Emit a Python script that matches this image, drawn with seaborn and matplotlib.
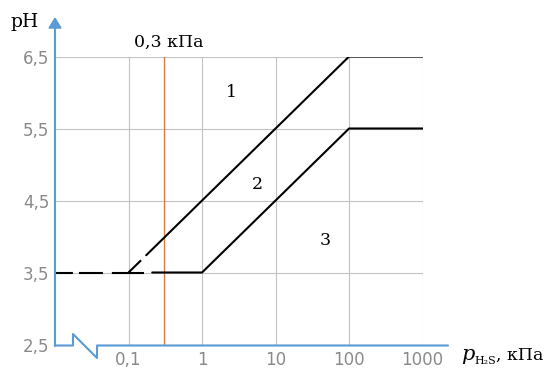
import numpy as np
import pandas as pd
import matplotlib.pyplot as plt
import seaborn as sns
from matplotlib.lines import Line2D

# ticks
x_ticks = [0.1, 1, 10, 100, 1000]
x_tick_labels = ['0,1', '1', '10', '100', '1000']
y_ticks = [2.5, 3.5, 4.5, 5.5, 6.5]
y_tick_labels = ['2,5', '3,5', '4,5', '5,5', '6,5']

# boundary between regions 1 and 2
upper_dash_x = [0.1, 0.148]
upper_dash_y = [3.5, 3.67]
upper_x = [0.174, 100, 1000]
upper_y = [3.74, 6.5, 6.5]

# boundary between regions 2 and 3
lower_dash_x = [0.01, 0.163]
lower_dash_y = [3.5, 3.5]
lower_x = [0.21, 1, 100, 1000]
lower_y = [3.5, 3.5, 5.5, 5.5]

# reference pressure line
p_ref = 0.3
p_ref_label = '0,3 кПа'

# region labels
region_names = ['1', '2', '3']
region_x = [2.5, 5.6, 48]
region_y = [6.0, 4.72, 3.94]

sns.set_theme(style="white")
plt.rcParams['font.family'] = ['DejaVu Sans']

blue = '#5b9bd5'
grid_col = '#c3c3c3'
tick_col = '#8a8a8a'

W, H = 549, 370
fig = plt.figure(figsize=(W / 100, H / 100), dpi=100)
ax = fig.add_axes([55 / W, 1 - 344.5 / H, 367.6 / W, 288 / H])
ax.set_xscale('log')

upper_df = pd.DataFrame({'p': upper_x, 'ph': upper_y})
lower_df = pd.DataFrame({'p': lower_x, 'ph': lower_y})
sns.lineplot(data=upper_df, x='p', y='ph', ax=ax, color='black', lw=1.5, sort=False)
sns.lineplot(data=lower_df, x='p', y='ph', ax=ax, color='black', lw=1.5, sort=False)
ax.plot(upper_dash_x, upper_dash_y, color='black', lw=1.5, solid_capstyle='butt')
ax.plot(lower_dash_x, lower_dash_y, color='black', lw=1.5, dash_capstyle='butt',
        linestyle=(0, (8.6, 2.9, 11.5, 4.3, 30, 5)))

ax.axvline(p_ref, color='#e07b45', lw=1, zorder=1)

ax.set_xlim(0.01, 1000)
ax.set_ylim(2.5, 6.5)
ax.set_xticks(x_ticks, labels=x_tick_labels)
ax.set_yticks(y_ticks, labels=y_tick_labels)
ax.minorticks_off()
ax.tick_params(axis='both', length=0, labelsize=12, labelcolor=tick_col)
ax.tick_params(axis='x', pad=5)
ax.tick_params(axis='y', pad=4)
ax.grid(True, color=grid_col, lw=0.8)
ax.set_axisbelow(True)
for s in ax.spines.values():
    s.set_visible(False)
ax.set_xlabel('')
ax.set_ylabel('')

serif = dict(family='DejaVu Serif', color='black')
for name, rx, ry in zip(region_names, region_x, region_y):
    ax.text(rx, ry, name, ha='center', va='center', fontsize=12.5, **serif)
ax.text(0.356, 6.70, p_ref_label, ha='center', va='center', fontsize=12.5,
        clip_on=False, **serif)


def fpt(px, py):
    return px / W, 1 - py / H


# y axis with arrow
ax.annotate('', xy=fpt(55, 17), xytext=fpt(55, 346), xycoords='figure fraction',
            textcoords='figure fraction',
            arrowprops=dict(arrowstyle='-|>,head_length=0.45,head_width=0.28',
                            color=blue, lw=1.5, mutation_scale=14, shrinkA=0, shrinkB=0))

# x axis with break
brk = [(55, 345.5), (73, 345.5), (73, 334), (97, 358), (97, 345.5), (448, 345.5)]
bx = [fpt(*p)[0] for p in brk]
by = [fpt(*p)[1] for p in brk]
fig.add_artist(Line2D(bx, by, transform=fig.transFigure, color=blue, lw=1.5))

# x axis title: p_H2S, кПа
fig.text(*fpt(461, 360), 'p', ha='left', va='baseline', fontsize=15,
         style='italic', **serif)
fig.text(*fpt(474, 364), 'H₂S', ha='left', va='baseline', fontsize=8, **serif)
fig.text(*fpt(496, 360), ', кПа', ha='left', va='baseline', fontsize=12.5, **serif)
fig.text(*fpt(25, 22), 'pH', ha='center', va='center', fontsize=13.5, **serif)

fig.savefig('out.png', dpi=100)
